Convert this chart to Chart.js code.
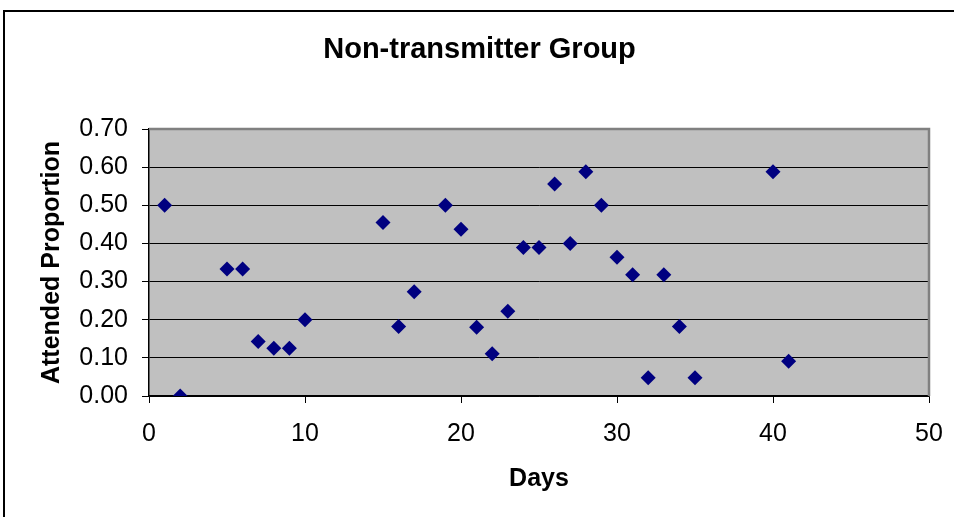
<!DOCTYPE html>
<html>
<head>
<meta charset="utf-8">
<script src="https://cdn.jsdelivr.net/npm/chart.js@4.4.0/dist/chart.umd.min.js"></script>
<style>
  html, body { margin: 0; padding: 0; background: #fff; }
  #wrap { position: relative; width: 954px; height: 517px; overflow: hidden; }
  #frame { position: absolute; left: 3px; top: 10px; width: 1000px; height: 600px;
           border-left: 2px solid #000; border-top: 2px solid #000; box-sizing: border-box; }
  canvas { position: absolute; left: 0; top: 0; }
</style>
</head>
<body>
<div id="wrap">
  <div id="frame"></div>
  <canvas id="chart" width="954" height="517"></canvas>
</div>
<script>
const days = [1, 2, 5, 6, 7, 8, 9, 10, 15, 16, 17, 19, 20, 21, 22, 23, 24, 25, 26, 27, 28, 29, 30, 31, 32, 33, 34, 35, 40, 41];
const attended = [0.50, 0.00, 0.333, 0.333, 0.143, 0.125, 0.125, 0.20, 0.455, 0.182, 0.273, 0.50, 0.4375, 0.18, 0.111, 0.222, 0.389, 0.389, 0.556, 0.40, 0.588, 0.50, 0.364, 0.318, 0.048, 0.318, 0.182, 0.048, 0.588, 0.091];
const xTicks = [0, 10, 20, 30, 40, 50];
const yTicks = [0, 0.1, 0.2, 0.3, 0.4, 0.5, 0.6, 0.7];

const points = days.map((d, i) => ({ x: d, y: attended[i] }));

// grey plot area with the grey border on top and right
const plotBg = {
  id: 'plotBg',
  beforeDraw(chart) {
    const { ctx, chartArea: a } = chart;
    ctx.save();
    ctx.fillStyle = '#c0c0c0';
    ctx.fillRect(a.left, a.top, a.right - a.left, a.bottom - a.top);
    ctx.restore();
  },
  beforeDatasetsDraw(chart) {
    const { ctx, chartArea: a } = chart;
    ctx.save();
    ctx.strokeStyle = '#808080';
    ctx.lineWidth = 2.5;
    ctx.beginPath();
    ctx.moveTo(a.left, a.top);
    ctx.lineTo(a.right, a.top);
    ctx.lineTo(a.right, a.bottom);
    ctx.stroke();
    ctx.restore();
  }
};

const font = 'Liberation Sans, Arial, sans-serif';

new Chart(document.getElementById('chart').getContext('2d'), {
  type: 'scatter',
  data: {
    datasets: [{
      data: points,
      pointStyle: 'rectRot',
      pointRadius: 7.5,
      pointHoverRadius: 7.5,
      backgroundColor: '#000080',
      borderColor: '#000080',
      borderWidth: 0
    }]
  },
  options: {
    responsive: false,
    animation: false,
    layout: { padding: { left: 30, right: 25, top: 0, bottom: 0 } },
    plugins: {
      legend: { display: false },
      tooltip: { enabled: false },
      title: {
        display: true,
        text: 'Non-transmitter Group',
        color: '#000',
        font: { family: font, size: 29, weight: 'bold' },
        padding: { top: 33, bottom: 61.2 }
      }
    },
    scales: {
      x: {
        type: 'linear',
        min: 0,
        max: 50,
        afterBuildTicks(scale) { scale.ticks = xTicks.map(v => ({ value: v })); },
        afterFit(scale) {
          scale.height = 121;
          scale.paddingLeft = 0;
          scale.paddingRight = 0;
        },
        ticks: {
          color: '#000',
          font: { family: font, size: 25 },
          padding: 16,
          maxRotation: 0
        },
        grid: {
          drawOnChartArea: false,
          drawTicks: true,
          tickLength: 7,
          color: '#000',
          lineWidth: 1
        },
        border: { color: '#000', width: 1.5 },
        title: {
          display: true,
          text: 'Days',
          color: '#000',
          font: { family: font, size: 25, weight: 'bold' },
          padding: { top: 0, bottom: 23 }
        }
      },
      y: {
        type: 'linear',
        min: 0,
        max: 0.7,
        afterBuildTicks(scale) { scale.ticks = yTicks.map(v => ({ value: v })); },
        afterFit(scale) { scale.width = 119; },
        ticks: {
          color: '#000',
          font: { family: font, size: 25 },
          padding: 14,
          callback: v => Number(v).toFixed(2)
        },
        grid: {
          color: '#000',
          lineWidth: 1,
          tickLength: 7
        },
        border: { color: '#000', width: 1.5 },
        title: {
          display: true,
          text: 'Attended Proportion',
          color: '#000',
          font: { family: font, size: 25, weight: 'bold' },
          padding: { top: 7, bottom: 0 }
        }
      }
    }
  },
  plugins: [plotBg]
});
</script>
</body>
</html>
